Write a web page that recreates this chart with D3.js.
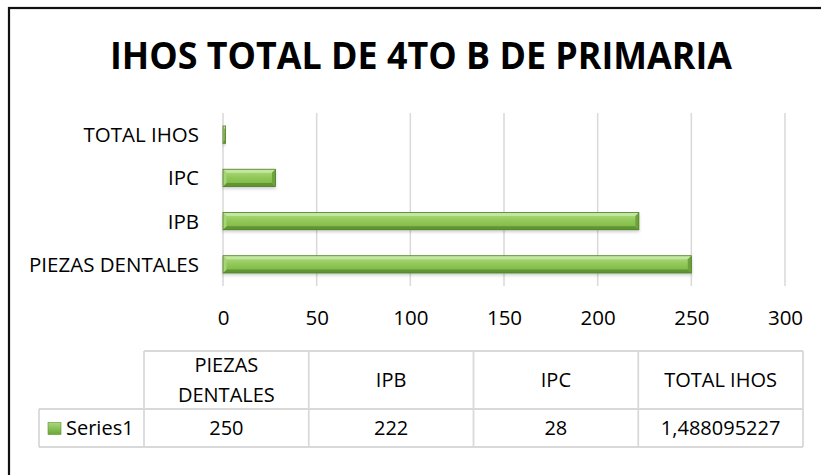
<!DOCTYPE html>
<html>
<head>
<meta charset="utf-8">
<script src="https://cdn.jsdelivr.net/npm/d3@7"></script>
<style>
  body { margin: 0; background: #fff; }
  text { font-family: "Open Sans", "Liberation Sans", sans-serif; fill: #000; }
</style>
</head>
<body>
<div id="chart"></div>
<script>
const categories = ["PIEZAS DENTALES", "IPB", "IPC", "TOTAL IHOS"];
const values = [250, 222, 28, 1.488095227];
const valueLabels = ["250", "222", "28", "1,488095227"];
const headerLines = [["PIEZAS", "DENTALES"], ["IPB"], ["IPC"], ["TOTAL IHOS"]];
const seriesName = "Series1";
const xTicks = [0, 50, 100, 150, 200, 250, 300];

const w = 821, h = 475;
const plot = { left: 223, right: 785, top: 113, bottom: 286 };

const svg = d3.select("#chart").append("svg")
  .attr("width", w)
  .attr("height", h);

const defs = svg.append("defs");
const grad = defs.append("linearGradient")
  .attr("id", "barGrad")
  .attr("x1", 0).attr("y1", 0).attr("x2", 0).attr("y2", 1);
grad.append("stop").attr("offset", "0%").attr("stop-color", "#b4de88");
grad.append("stop").attr("offset", "45%").attr("stop-color", "#92c95a");
grad.append("stop").attr("offset", "100%").attr("stop-color", "#7cb444");

const shadow = defs.append("filter").attr("id", "shadow")
  .attr("x", "-5%").attr("y", "-30%").attr("width", "110%").attr("height", "180%");
shadow.append("feDropShadow")
  .attr("dx", 0).attr("dy", 2).attr("stdDeviation", 1.5)
  .attr("flood-color", "#000").attr("flood-opacity", 0.18);

// outer frame
svg.append("rect")
  .attr("x", 9).attr("y", 8)
  .attr("width", 840).attr("height", 500)
  .attr("fill", "none")
  .attr("stroke", "#111")
  .attr("stroke-width", 2.2);

// title
svg.append("text")
  .attr("x", 421)
  .attr("y", 69)
  .attr("text-anchor", "middle")
  .style("font-weight", "bold")
  .style("font-size", "37px")
  .attr("textLength", 622)
  .attr("lengthAdjust", "spacingAndGlyphs")
  .text("IHOS TOTAL DE 4TO B DE PRIMARIA");

const xScale = d3.scaleLinear()
  .domain([0, 300])
  .range([plot.left, plot.right]);

const yScale = d3.scaleBand()
  .domain(categories.slice().reverse())
  .range([plot.top, plot.bottom])
  .paddingInner(0.6)
  .paddingOuter(0.3);

// gridlines
svg.append("g")
  .selectAll("line")
  .data(xTicks)
  .enter()
  .append("line")
  .attr("x1", d => xScale(d))
  .attr("x2", d => xScale(d))
  .attr("y1", plot.top)
  .attr("y2", plot.bottom)
  .attr("stroke", "#d9d9d9")
  .attr("stroke-width", 1.5);

// x axis labels
const xAxis = d3.axisBottom(xScale).tickValues(xTicks).tickSize(0).tickPadding(0);
const gx = svg.append("g")
  .attr("transform", "translate(0," + plot.bottom + ")")
  .call(xAxis);
gx.select(".domain").remove();
gx.selectAll("text")
  .attr("y", 39)
  .attr("dy", null)
  .style("font-size", "20.5px")
  .style("font-family", "'Open Sans', sans-serif")
  .attr("fill", "#000");

// category labels
const yAxis = d3.axisLeft(yScale).tickSize(0).tickPadding(0);
const gy = svg.append("g")
  .attr("transform", "translate(199,0)")
  .call(yAxis);
gy.select(".domain").remove();
gy.selectAll("text")
  .attr("x", 0)
  .attr("dy", "0.36em")
  .style("font-size", "20.5px")
  .style("font-family", "'Open Sans', sans-serif")
  .attr("fill", "#000");

// bars with bevel
const b = 3.5;
const bars = svg.append("g")
  .selectAll("g")
  .data(categories.map((c, i) => ({ c: c, v: values[i] })))
  .enter()
  .append("g")
  .attr("filter", "url(#shadow)");

bars.each(function (d) {
  const g = d3.select(this);
  const x0 = xScale(0), x1 = xScale(d.v);
  const y0 = yScale(d.c), y1 = y0 + yScale.bandwidth();
  const bb = Math.min(b, (x1 - x0) / 2);
  g.append("rect")
    .attr("x", x0).attr("y", y0)
    .attr("width", x1 - x0).attr("height", y1 - y0)
    .attr("fill", "url(#barGrad)");
  // top bevel
  g.append("polygon")
    .attr("points", [[x0, y0], [x1, y0], [x1 - bb, y0 + b], [x0 + bb, y0 + b]].join(" "))
    .attr("fill", "#c4e7a0");
  // bottom bevel
  g.append("polygon")
    .attr("points", [[x0, y1], [x1, y1], [x1 - bb, y1 - b], [x0 + bb, y1 - b]].join(" "))
    .attr("fill", "#5f9631");
  // left bevel
  g.append("polygon")
    .attr("points", [[x0, y0], [x0 + bb, y0 + b], [x0 + bb, y1 - b], [x0, y1]].join(" "))
    .attr("fill", "#a6d477");
  // right bevel
  g.append("polygon")
    .attr("points", [[x1, y0], [x1 - bb, y0 + b], [x1 - bb, y1 - b], [x1, y1]].join(" "))
    .attr("fill", "#6ea23a");
  g.append("rect")
    .attr("x", x0).attr("y", y0)
    .attr("width", x1 - x0).attr("height", y1 - y0)
    .attr("fill", "none")
    .attr("stroke", "#4f7d28")
    .attr("stroke-width", 0.8);
});

// data table
const tLeft = 39, tFirst = 144, tRight = 803;
const tTop = 351, tMid = 409, tBottom = 447;
const colScale = d3.scaleBand()
  .domain(categories)
  .range([tFirst, tRight]);

const table = svg.append("g")
  .attr("fill", "none")
  .attr("stroke", "#d9d9d9")
  .attr("stroke-width", 1.8);

table.append("line").attr("x1", tFirst).attr("x2", tRight).attr("y1", tTop).attr("y2", tTop);
table.append("line").attr("x1", tLeft).attr("x2", tRight).attr("y1", tMid).attr("y2", tMid);
table.append("line").attr("x1", tLeft).attr("x2", tRight).attr("y1", tBottom).attr("y2", tBottom);
table.append("line").attr("x1", tLeft).attr("x2", tLeft).attr("y1", tMid).attr("y2", tBottom);
table.selectAll(".col")
  .data(categories)
  .enter()
  .append("line")
  .attr("x1", d => colScale(d))
  .attr("x2", d => colScale(d))
  .attr("y1", tTop)
  .attr("y2", tBottom);
table.append("line").attr("x1", tRight).attr("x2", tRight).attr("y1", tTop).attr("y2", tBottom);

// header text
const headers = svg.append("g")
  .selectAll("text")
  .data(categories)
  .enter()
  .append("text")
  .attr("text-anchor", "middle")
  .style("font-size", "20px");
headers.each(function (d, i) {
  const lines = headerLines[i];
  const cx = colScale(d) + colScale.bandwidth() / 2;
  const cy = (tTop + tMid) / 2;
  const lh = 29.5;
  lines.forEach((ln, k) => {
    d3.select(this).append("tspan")
      .attr("x", cx)
      .attr("y", cy + 7 + (k - (lines.length - 1) / 2) * lh)
      .text(ln);
  });
});

// values row
svg.append("g")
  .selectAll("text")
  .data(categories)
  .enter()
  .append("text")
  .attr("text-anchor", "middle")
  .attr("x", d => colScale(d) + colScale.bandwidth() / 2)
  .attr("y", (tMid + tBottom) / 2 + 7)
  .style("font-size", "20px")
  .text((d, i) => valueLabels[i]);

// legend key
const kg = defs.append("linearGradient")
  .attr("id", "keyGrad")
  .attr("x1", 0).attr("y1", 0).attr("x2", 0).attr("y2", 1);
kg.append("stop").attr("offset", "0%").attr("stop-color", "#a9d97a");
kg.append("stop").attr("offset", "100%").attr("stop-color", "#6aa737");
svg.append("rect")
  .attr("x", 48).attr("y", 422.5)
  .attr("width", 13).attr("height", 12)
  .attr("fill", "url(#keyGrad)")
  .attr("stroke", "#5e9431")
  .attr("stroke-width", 0.6);
svg.append("text")
  .attr("x", 66)
  .attr("y", (tMid + tBottom) / 2 + 7)
  .style("font-size", "20px")
  .text(seriesName);
</script>
</body>
</html>
